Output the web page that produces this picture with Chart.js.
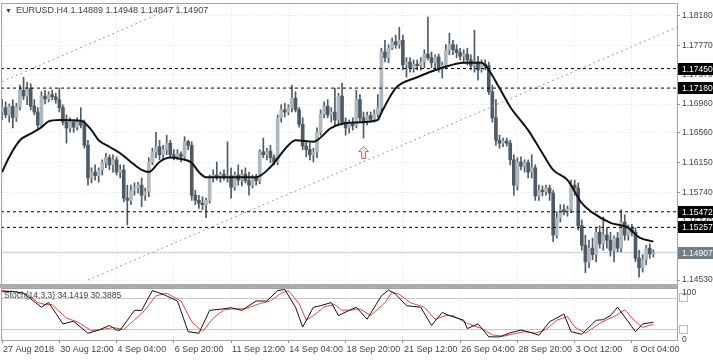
<!DOCTYPE html>
<html><head><meta charset="utf-8">
<script src="https://cdn.jsdelivr.net/npm/chart.js@4.4.1/dist/chart.umd.min.js"></script>
<style>
html,body{margin:0;padding:0;background:#fff;}
#wrap{position:relative;width:713px;height:361px;overflow:hidden;background:#fff;}
#main{position:absolute;left:0;top:0;}
#sub{position:absolute;left:0;top:285px;}
#sep{position:absolute;left:0;top:284px;width:678px;height:4px;background:#a9adb1;}
</style></head><body>
<div id="wrap">
<canvas id="main" width="713" height="285"></canvas>
<canvas id="sub" width="713" height="76"></canvas>
<div id="sep"></div>
</div>
<script>
// ---------- data ----------
const symbolName = "EURUSD.H4";
const opens = [
1.1685,1.1691,1.1681,1.1693,1.1677,1.1692,1.1715,1.1707,1.1718,1.1693,
1.1685,1.1667,1.1707,1.1703,1.1709,1.1706,1.1702,1.1691,1.1671,1.1663,
1.1671,1.1664,1.1671,1.1667,1.1639,1.1594,1.1602,1.1597,1.1605,1.1615,
1.1622,1.1612,1.1619,1.1602,1.1605,1.1566,1.1563,1.1577,1.1580,1.1584,
1.1570,1.1575,1.1616,1.1630,1.1637,1.1626,1.1633,1.1642,1.1626,1.1624,
1.1627,1.1623,1.1644,1.1639,1.1570,1.1563,1.1559,1.1557,1.1563,1.1594,
1.1598,1.1595,1.1599,1.1594,1.1597,1.1581,1.1598,1.1591,1.1599,1.1590,
1.1584,1.1594,1.1590,1.1630,1.1626,1.1631,1.1622,1.1616,1.1677,1.1688,
1.1685,1.1691,1.1704,1.1688,1.1668,1.1638,1.1633,1.1626,1.1630,1.1657,
1.1682,1.1693,1.1681,1.1685,1.1674,1.1707,1.1671,1.1663,1.1668,1.1666,
1.1702,1.1677,1.1671,1.1680,1.1675,1.1682,1.1691,1.1768,1.1760,1.1773,
1.1782,1.1778,1.1784,1.1750,1.1754,1.1746,1.1751,1.1749,1.1754,1.1765,
1.1760,1.1753,1.1761,1.1746,1.1750,1.1771,1.1778,1.1771,1.1767,1.1762,
1.1765,1.1757,1.1749,1.1754,1.1743,1.1751,1.1749,1.1713,1.1677,1.1646,
1.1642,1.1645,1.1642,1.1619,1.1584,1.1616,1.1610,1.1615,1.1602,1.1608,
1.1569,1.1577,1.1575,1.1580,1.1573,1.1515,1.1539,1.1550,1.1547,1.1551,
1.1584,1.1580,1.1528,1.1501,1.1478,1.1497,1.1488,1.1519,1.1503,1.1515,
1.1508,1.1494,1.1511,1.1497,1.1533,1.1515,1.1525,1.1519,1.1483,1.1470,
1.1481,1.1497,1.14889];
const highs = [
1.1702,1.1699,1.1696,1.1702,1.1697,1.1722,1.1733,1.1726,1.1724,1.1702,
1.1691,1.1713,1.1715,1.1713,1.1715,1.1711,1.1718,1.1695,1.1681,1.1677,
1.1674,1.1677,1.1691,1.1674,1.1646,1.1608,1.1612,1.1608,1.1619,1.1628,
1.1626,1.1626,1.1623,1.1612,1.1612,1.1584,1.1584,1.1587,1.1588,1.1594,
1.1580,1.1622,1.1635,1.1657,1.1646,1.1639,1.1653,1.1646,1.1633,1.1633,
1.1630,1.1651,1.1646,1.1644,1.1577,1.1570,1.1568,1.1566,1.1598,1.1605,
1.1616,1.1602,1.1605,1.1644,1.1608,1.1602,1.1612,1.1605,1.1608,1.1602,
1.1598,1.1599,1.1633,1.1649,1.1635,1.1639,1.1626,1.1681,1.1695,1.1697,
1.1695,1.1722,1.1713,1.1691,1.1677,1.1646,1.1642,1.1635,1.1663,1.1688,
1.1699,1.1702,1.1691,1.1718,1.1711,1.1725,1.1677,1.1674,1.1677,1.1715,
1.1709,1.1685,1.1685,1.1685,1.1688,1.1709,1.1773,1.1784,1.1778,1.1787,
1.1791,1.1802,1.1791,1.1760,1.1760,1.1757,1.1757,1.1760,1.1771,1.1816,
1.1768,1.1764,1.1765,1.1754,1.1778,1.1794,1.1784,1.1778,1.1773,1.1771,
1.1773,1.1764,1.1798,1.1762,1.1757,1.1757,1.1754,1.1722,1.1702,1.1653,
1.1649,1.1649,1.1646,1.1626,1.1622,1.1623,1.1619,1.1619,1.1626,1.1612,
1.1584,1.1583,1.1584,1.1584,1.1577,1.1547,1.1557,1.1557,1.1555,1.1591,
1.1591,1.1587,1.1536,1.1515,1.1508,1.1511,1.1525,1.1528,1.1540,1.1525,
1.1519,1.1514,1.1519,1.1550,1.1543,1.1529,1.1530,1.1525,1.1494,1.1488,
1.1501,1.1503,1.14948];
const lows = [
1.1674,1.1677,1.1671,1.1663,1.1672,1.1688,1.1702,1.1695,1.1688,1.1681,
1.1660,1.1663,1.1696,1.1699,1.1702,1.1697,1.1685,1.1667,1.1642,1.1657,
1.1657,1.1660,1.1663,1.1635,1.1584,1.1587,1.1591,1.1588,1.1598,1.1608,
1.1605,1.1602,1.1598,1.1594,1.1561,1.1529,1.1557,1.1570,1.1573,1.1554,
1.1563,1.1568,1.1612,1.1622,1.1619,1.1619,1.1626,1.1622,1.1619,1.1619,
1.1616,1.1619,1.1633,1.1563,1.1557,1.1552,1.1550,1.1539,1.1559,1.1588,
1.1591,1.1588,1.1591,1.1588,1.1566,1.1577,1.1584,1.1583,1.1587,1.1570,
1.1580,1.1584,1.1586,1.1622,1.1619,1.1615,1.1612,1.1612,1.1671,1.1678,
1.1681,1.1685,1.1685,1.1664,1.1633,1.1623,1.1619,1.1616,1.1622,1.1653,
1.1677,1.1677,1.1671,1.1667,1.1668,1.1667,1.1653,1.1656,1.1660,1.1663,
1.1671,1.1649,1.1667,1.1671,1.1671,1.1677,1.1685,1.1754,1.1753,1.1771,
1.1773,1.1773,1.1743,1.1733,1.1740,1.1740,1.1743,1.1743,1.1746,1.1757,
1.1746,1.1743,1.1740,1.1732,1.1746,1.1764,1.1764,1.1760,1.1757,1.1754,
1.1750,1.1743,1.1740,1.1729,1.1740,1.1743,1.1709,1.1671,1.1639,1.1635,
1.1637,1.1638,1.1612,1.1570,1.1577,1.1605,1.1602,1.1594,1.1594,1.1563,
1.1563,1.1569,1.1570,1.1563,1.1506,1.1511,1.1533,1.1543,1.1541,1.1546,
1.1570,1.1522,1.1494,1.1463,1.1470,1.1481,1.1478,1.1497,1.1494,1.1497,
1.1486,1.1478,1.1492,1.1492,1.1508,1.1508,1.1514,1.1478,1.1457,1.1464,
1.1474,1.1483,1.14847];
const closes = [
1.1691,1.1681,1.1693,1.1677,1.1692,1.1715,1.1707,1.1718,1.1693,1.1685,
1.1667,1.1707,1.1703,1.1709,1.1706,1.1702,1.1691,1.1671,1.1663,1.1671,
1.1664,1.1671,1.1667,1.1639,1.1594,1.1602,1.1597,1.1605,1.1615,1.1622,
1.1612,1.1619,1.1602,1.1605,1.1566,1.1563,1.1577,1.1580,1.1584,1.1570,
1.1575,1.1616,1.1630,1.1637,1.1626,1.1633,1.1642,1.1626,1.1624,1.1627,
1.1623,1.1644,1.1639,1.1570,1.1563,1.1559,1.1557,1.1563,1.1594,1.1598,
1.1595,1.1599,1.1594,1.1597,1.1581,1.1598,1.1591,1.1599,1.1590,1.1584,
1.1594,1.1590,1.1630,1.1626,1.1631,1.1622,1.1616,1.1677,1.1688,1.1685,
1.1691,1.1704,1.1688,1.1668,1.1638,1.1633,1.1626,1.1630,1.1657,1.1682,
1.1693,1.1681,1.1685,1.1674,1.1707,1.1671,1.1663,1.1668,1.1666,1.1702,
1.1677,1.1671,1.1680,1.1675,1.1682,1.1691,1.1768,1.1760,1.1773,1.1782,
1.1778,1.1784,1.1750,1.1754,1.1746,1.1751,1.1749,1.1754,1.1765,1.1760,
1.1753,1.1761,1.1746,1.1750,1.1771,1.1778,1.1771,1.1767,1.1762,1.1765,
1.1757,1.1749,1.1754,1.1743,1.1751,1.1749,1.1713,1.1677,1.1646,1.1642,
1.1645,1.1642,1.1619,1.1584,1.1616,1.1610,1.1615,1.1602,1.1608,1.1569,
1.1577,1.1575,1.1580,1.1573,1.1515,1.1539,1.1550,1.1547,1.1551,1.1584,
1.1580,1.1528,1.1501,1.1478,1.1497,1.1488,1.1519,1.1503,1.1515,1.1508,
1.1494,1.1511,1.1497,1.1533,1.1515,1.1525,1.1519,1.1483,1.1470,1.1481,
1.1497,1.1489,1.14907];

// moving average (bar index, value)
const maBars = [0,2,5,8,11,13,16,22,25,27,30,33,36,39,41,44,47,50,53,55,57,64,71,75,80,82,87,92,97,105,106,110,116,123,129,134,136,139,142,147,151,154,158,162,165,170,175,178,182];
const maVals = [1.1602,1.1623,1.1646,1.1655,1.1664,1.1672,1.1674,1.1673,1.1660,1.1646,1.1637,1.1628,1.1616,1.1605,1.1602,1.1616,1.1622,1.1620,1.1615,1.1602,1.1595,1.1595,1.1595,1.1609,1.1639,1.1646,1.1644,1.1663,1.1670,1.1674,1.1684,1.1718,1.1733,1.1746,1.1753,1.1753,1.1743,1.1718,1.1692,1.1660,1.1628,1.1605,1.1591,1.1559,1.1546,1.1532,1.1525,1.1512,1.1506];

// stochastic %K and %D
const kBars = [0,3,6,11,12,13,17,20,24,27,30,32,33,37,39,42,45,49,52,55,58,62,64,67,71,74,77,79,82,84,87,89,92,94,97,99,102,106,108,110,113,117,120,123,125,129,130,133,136,139,142,145,148,150,153,157,159,162,166,168,170,172,177,179,182];
const kVals = [93,93,90,63,68,72,31,36,13,19,28,19,19,57,57,95,88,75,16,13,57,60,62,57,75,75,95,97,63,25,63,66,72,47,57,63,40,85,96,88,66,63,28,53,47,38,22,31,6,6,14,19,14,9,35,50,16,11,38,39,47,63,16,31,34.1419];
const dBars = [0,4,7,10,12,14,18,21,25,28,31,34,38,40,43,46,50,53,56,59,62,65,68,72,75,78,80,83,85,88,90,93,95,98,100,103,107,109,111,114,118,121,124,126,130,134,137,140,143,146,149,152,155,158,160,163,167,169,171,174,177,179,182];
const dVals = [95,93,88,72,68,68,42,35,18,20,24,20,45,58,85,90,75,35,16,42,58,60,60,70,75,90,95,70,38,52,64,68,57,58,60,47,72,92,88,72,63,40,47,47,32,22,10,7,12,16,13,20,38,45,25,13,32,39,45,58,35,24,30.3885];
const stochName = "Stoch(14,3,3)";
const stochLevels = [20, 80];

// horizontal levels and trend lines (bar index, price)
const levelValues = [1.17450, 1.17180, 1.15472, 1.15257];
const trendUpper = [{x:0, y:1.1727}, {x:52, y:1.1838}];
const trendLower = [{x:24, y:1.1453}, {x:188.6, y:1.1802}];
const arrowPoint = [{x:101, y:1.1629}];

// axes
const yTickValues = [1.18180,1.17770,1.17370,1.16960,1.16560,1.16150,1.15740,1.15340,1.14930,1.14530];
const yTickLabels = ["1.18180","1.17770","1.17370","1.16960","1.16560","1.16150","1.15740","1.15340","1.14930","1.14530"];
const xTickBars = [0,16,32,48,64,80,96,112,128,144,160,176];
const xTickLabels = ["27 Aug 2018","30 Aug 12:00","4 Sep 04:00","6 Sep 20:00","11 Sep 12:00","14 Sep 04:00","18 Sep 20:00","21 Sep 12:00","26 Sep 04:00","28 Sep 20:00","3 Oct 12:00","8 Oct 04:00"];
const stochTickValues = [0, 20, 80, 100];
const stochScaleLabels = ["100", "0"];

// ---------- drawing ----------
const X_MIN = -0.3, X_MAX = 188.6;
const Y_MIN = 1.14475, Y_MAX = 1.18355;
const FONT = "'Liberation Sans', Arial, sans-serif";
const FRAME = '#9ea3a8';
const GRID = '#e2e5e8';
const DARK = '#4e5a66';
const BULL = '#aeb6be';
const last = closes.length - 1;

Chart.defaults.font.family = FONT;
Chart.defaults.animation = false;

const arrowImg = document.createElement('canvas');
arrowImg.width = 11; arrowImg.height = 13;
(function(){
  const a = arrowImg.getContext('2d');
  a.beginPath();
  a.moveTo(5.5,0.5); a.lineTo(10.5,5.5); a.lineTo(7.5,5.5); a.lineTo(7.5,12.5);
  a.lineTo(3.5,12.5); a.lineTo(3.5,5.5); a.lineTo(0.5,5.5); a.closePath();
  a.fillStyle = '#fdeceb'; a.fill();
  a.strokeStyle = '#e2625c'; a.lineWidth = 1; a.stroke();
})();

const bodies = opens.map((o,i) => ({x:i, y:[o, closes[i]]}));
const wicks = lows.map((l,i) => ({x:i, y:[l, highs[i]]}));
const maData = maBars.map((b,i) => ({x:b, y:maVals[i]}));

function hLine(v, color, dash, order) {
  return {type:'line', data:[{x:X_MIN,y:v},{x:X_MAX,y:v}], borderColor:color, borderWidth:1,
    borderDash:dash, pointRadius:0, order:order};
}
function noPad(s) { s.paddingTop = 0; s.paddingBottom = 0; s.paddingLeft = 0; s.paddingRight = 0; }

const mainOverlay = {
  id:'mainOverlay',
  afterDraw(chart) {
    const {ctx, chartArea:a, scales} = chart;
    ctx.save();
    ctx.strokeStyle = FRAME; ctx.lineWidth = 1;
    ctx.strokeRect(a.left + 0.5, a.top + 0.5, a.right - a.left, a.bottom - a.top);
    // title
    ctx.fillStyle = '#3a3f44';
    ctx.font = "7px " + FONT;
    ctx.textBaseline = 'middle';
    ctx.fillText('\u25BC', 5, 11);
    ctx.font = "9px " + FONT;
    const t = symbolName + ' ' + [opens[last], highs[last], lows[last], closes[last]].map(v => v.toFixed(5)).join(' ');
    ctx.fillText(t, 16, 11);
    // price boxes
    const y = scales.y;
    const box = (v, bg) => {
      const py = Math.round(y.getPixelForValue(v));
      ctx.fillStyle = bg;
      ctx.fillRect(a.right + 1, py - 6, 713 - a.right - 1, 12);
      ctx.fillStyle = '#ffffff';
      ctx.font = "8.5px " + FONT;
      ctx.fillText(v.toFixed(5), a.right + 5, py + 0.5);
    };
    levelValues.forEach(v => box(v, '#000000'));
    box(closes[last], '#737d87');
    ctx.restore();
  }
};

new Chart(document.getElementById('main'), {
  type:'bar',
  data:{datasets:[
    ...levelValues.map(v => hLine(v, '#000000', [3,3], 2)),
    hLine(closes[last], '#c9ced3', [], 6),
    {type:'line', data:trendUpper, borderColor:'#9a9a9a', borderWidth:1, borderDash:[2,3], pointRadius:0, order:2},
    {type:'line', data:trendLower, borderColor:'#9a9a9a', borderWidth:1, borderDash:[2,3], pointRadius:0, order:2},
    {type:'bar', data:wicks, backgroundColor:DARK, barThickness:1, minBarLength:1, grouped:false, order:4},
    {type:'bar', data:bodies, backgroundColor: c => closes[c.dataIndex] >= opens[c.dataIndex] ? BULL : DARK,
      barThickness:3, minBarLength:1, grouped:false, order:3},
    {type:'line', data:maData, borderColor:'#111111', borderWidth:2, pointRadius:0, tension:0.4,
      cubicInterpolationMode:'monotone', order:1},
    {type:'line', data:arrowPoint, showLine:false, pointStyle:arrowImg, pointRadius:6, order:0}
  ]},
  options:{
    responsive:false, devicePixelRatio:1, animation:false,
    layout:{autoPadding:false, padding:{left:1, right:0, top:3, bottom:1}},
    plugins:{legend:{display:false}, tooltip:{enabled:false}},
    events:[],
    scales:{
      x:{type:'linear', min:X_MIN, max:X_MAX, offset:false,
        afterBuildTicks: s => { s.ticks = xTickBars.map(v => ({value:v})); },
        afterFit: s => { s.height = 0; noPad(s); },
        ticks:{display:false},
        grid:{color:GRID, drawTicks:false, offset:false},
        border:{display:false, dash:[1,2]}},
      y:{type:'linear', position:'right', min:Y_MIN, max:Y_MAX,
        afterBuildTicks: s => { s.ticks = yTickValues.map(v => ({value:v})); },
        afterFit: s => { s.width = 36; noPad(s); },
        ticks:{callback: v => yTickLabels[yTickValues.indexOf(v)], font:{size:8.5}, color:'#444', padding:2, autoSkip:false},
        grid:{color:GRID, tickColor:'#8a8f94', tickLength:3},
        border:{display:false, dash:[1,2]}}
    }
  },
  plugins:[mainOverlay]
});

const subOverlay = {
  id:'subOverlay',
  afterDraw(chart) {
    const {ctx, chartArea:a, scales} = chart;
    ctx.save();
    ctx.strokeStyle = FRAME; ctx.lineWidth = 1;
    ctx.strokeRect(a.left + 0.5, a.top + 0.5, a.right - a.left, a.bottom - a.top);
    ctx.fillStyle = '#3a3f44';
    ctx.font = "8.5px " + FONT;
    ctx.textBaseline = 'middle';
    ctx.fillText(stochName + ' ' + kVals[kVals.length-1].toFixed(4) + ' ' + dVals[dVals.length-1].toFixed(4), 4, 11);
    // level markers on the scale
    stochLevels.forEach(v => {
      const py = Math.round(scales.y.getPixelForValue(v));
      ctx.strokeStyle = '#b8bcc0';
      ctx.strokeRect(a.right + 2.5, py - 4.5, 8, 8);
    });
    // scale labels kept inside the window
    ctx.fillStyle = '#444';
    ctx.fillText(stochScaleLabels[0], a.right + 5, a.top + 5);
    ctx.fillText(stochScaleLabels[1], a.right + 5, scales.y.getPixelForValue(0));
    ctx.restore();
  }
};

new Chart(document.getElementById('sub'), {
  type:'line',
  data:{datasets:[
    {data:kBars.map((b,i) => ({x:b, y:kVals[i]})), borderColor:'#111111', borderWidth:1, pointRadius:0, tension:0, order:1},
    {data:dBars.map((b,i) => ({x:b, y:dVals[i]})), borderColor:'#e8463f', borderWidth:1, pointRadius:0, tension:0, order:2}
  ]},
  options:{
    responsive:false, devicePixelRatio:1, animation:false,
    layout:{autoPadding:false, padding:{left:1, right:0, top:3, bottom:0}},
    plugins:{legend:{display:false}, tooltip:{enabled:false}},
    events:[],
    scales:{
      x:{type:'linear', min:X_MIN, max:X_MAX, offset:false,
        afterBuildTicks: s => { s.ticks = xTickBars.map(v => ({value:v})); },
        afterFit: s => { s.height = 21; noPad(s); },
        ticks:{callback: v => xTickLabels[xTickBars.indexOf(v)], align:'start', maxRotation:0, autoSkip:false,
          font:{size:9}, color:'#444', padding:1, labelOffset:1},
        grid:{color:GRID, tickColor:'#8a8f94', tickLength:3},
        border:{display:false, dash:[1,2]}},
      y:{type:'linear', position:'right', min:0, max:100,
        afterBuildTicks: s => { s.ticks = stochTickValues.map(v => ({value:v})); },
        afterFit: s => { s.width = 36; noPad(s); },
        ticks:{callback: () => '', font:{size:8.5}, padding:2, autoSkip:false},
        grid:{color: c => stochLevels.includes(c.tick && c.tick.value) ? '#c6c9cc' : 'rgba(0,0,0,0)',
          drawTicks:false},
        border:{display:false}}
    }
  },
  plugins:[subOverlay]
});
</script>
</body></html>
